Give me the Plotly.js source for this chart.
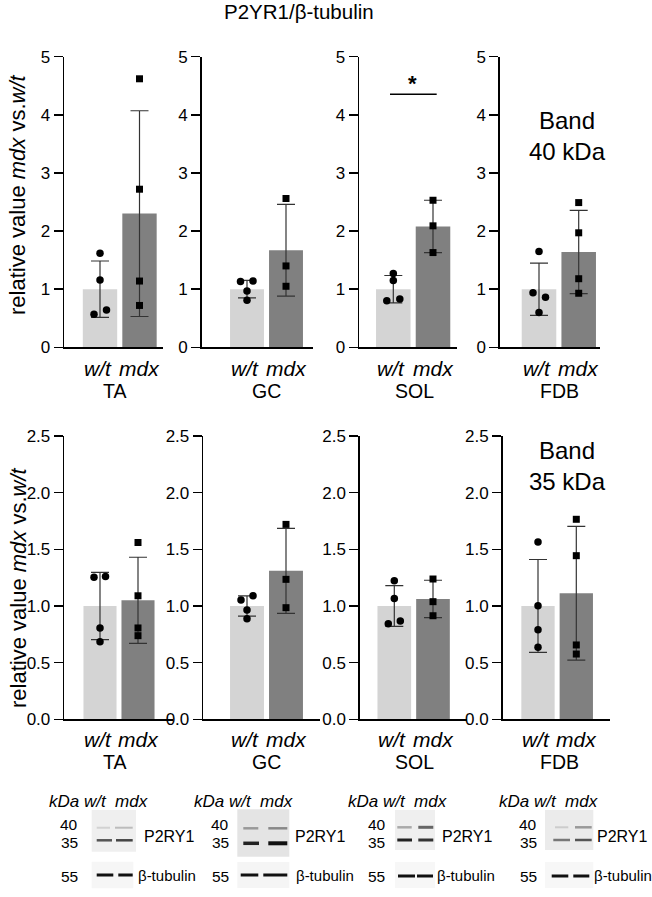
<!DOCTYPE html>
<html>
<head>
<meta charset="utf-8">
<script src="https://cdn.plot.ly/plotly-3.0.1.min.js"></script>
<style>
  html, body { margin: 0; padding: 0; background: #fff; }
  #chart { width: 652px; height: 897px; }
</style>
</head>
<body>
<div id="chart"></div>
<script>
// ---------------- DATA ----------------
const muscles = ['TA', 'GC', 'SOL', 'FDB'];
const groupLabels = ['w/t', 'mdx'];
const chartTitle = 'P2YR1/β-tubulin';
const yTitle = 'relative value <i>mdx</i> vs.<i>w/t</i>';
const bandLabels = ['Band<br>40 kDa', 'Band<br>35 kDa'];

// Band 40 kDa (top row)
const b40WtMean  = [1.00, 1.00, 1.00, 1.00];
const b40WtSd    = [0.485, 0.15, 0.235, 0.45];
const b40MdxMean = [2.30, 1.67, 2.08, 1.64];
const b40MdxSd   = [1.77, 0.79, 0.45, 0.715];
const b40WtPts   = [[1.62, 1.16, 0.57, 0.64], [1.13, 1.14, 0.97, 0.81], [1.27, 1.15, 0.80, 0.83], [1.65, 0.94, 0.86, 0.60]];
const b40MdxPts  = [[4.62, 2.72, 1.14, 0.72], [2.56, 1.40, 1.05], [2.53, 2.09, 1.63], [2.49, 1.97, 1.18, 0.93]];

// Band 35 kDa (bottom row)
const b35WtMean  = [1.00, 1.00, 1.00, 1.00];
const b35WtSd    = [0.297, 0.09, 0.18, 0.41];
const b35MdxMean = [1.05, 1.31, 1.062, 1.112];
const b35MdxSd   = [0.38, 0.375, 0.165, 0.59];
const b35WtPts   = [[1.253, 1.26, 0.806, 0.685], [1.053, 1.09, 0.965, 0.888], [1.223, 1.065, 0.844, 0.868], [1.565, 1.003, 0.791, 0.635]];
const b35MdxPts  = [[1.56, 1.09, 0.806, 0.738], [1.72, 1.235, 0.985], [1.238, 1.038, 0.914], [1.765, 1.444, 0.656, 0.576]];

const topTickVals = [0, 1, 2, 3, 4, 5];
const topTickText = ['0', '1', '2', '3', '4', '5'];
const botTickVals = [0, 0.5, 1.0, 1.5, 2.0, 2.5];
const botTickText = ['0.0', '0.5', '1.0', '1.5', '2.0', '2.5'];

// blot labels
const blotHeader = '<i>kDa w/t&nbsp;&nbsp;mdx</i>';
const blotMarkers = ['40', '35', '55'];
const blotProteins = ['P2RY1', 'β-tubulin'];

// ---------------- LAYOUT HELPERS ----------------
const W = 652, H = 897;
const px = x => x / W;
const py = y => 1 - y / H;
const FONT = '"Liberation Sans", Arial, Helvetica, sans-serif';

// panel geometry (pixels)
const rows = [
  { axisStart: [64.3, 201.7, 359.3, 500], axisEnd: [163, 313, 456.7, 600],
    wtCenter: [100, 247, 393.3, 539], spacing: [39.5, 39, 39.7, 39.7],
    yBottom: 347.3, yTop: 56.7, range: [0, 5], tv: topTickVals, tt: topTickText,
    wtMean: b40WtMean, wtSd: b40WtSd, mdxMean: b40MdxMean, mdxSd: b40MdxSd,
    wtPts: b40WtPts, mdxPts: b40MdxPts,
    jitter: [[0, 0, -6, 6.5], [-6.5, 6, 0, 0], [0, 0, -6.5, 6.5], [0, -6, 6.5, 0]],
    grpY: 368, musY: 391, titleY: 195 },
  { axisStart: [64.3, 203.3, 360, 502.7], axisEnd: [173, 320, 466.7, 610],
    wtCenter: [100, 247, 394.3, 538], spacing: [38, 39, 38.7, 38.3],
    yBottom: 719.3, yTop: 436, range: [0, 2.5], tv: botTickVals, tt: botTickText,
    wtMean: b35WtMean, wtSd: b35WtSd, mdxMean: b35MdxMean, mdxSd: b35MdxSd,
    wtPts: b35WtPts, mdxPts: b35MdxPts,
    jitter: [[-6, 5.5, 0, 0], [-6, 6, 0, 0], [0, 0, -6, 6], [0, 0, 0, 0]],
    grpY: 739, musY: 762, titleY: 588 }
];
const musX = [114, 266, 414, 559];

const traces = [];
const layout = {
  width: W, height: H,
  margin: { l: 0, r: 0, t: 0, b: 0 },
  paper_bgcolor: '#fff', plot_bgcolor: 'rgba(0,0,0,0)',
  showlegend: false,
  font: { family: FONT, color: '#000' },
  annotations: [], shapes: []
};

let k = 0;
rows.forEach((row, r) => {
  muscles.forEach((m, i) => {
    k += 1;
    const xs = k === 1 ? '' : String(k);
    const s = row.spacing[i], c0 = row.wtCenter[i];
    layout['xaxis' + xs] = {
      domain: [px(row.axisStart[i]), px(row.axisEnd[i])],
      range: [(row.axisStart[i] - c0) / s, (row.axisEnd[i] - c0) / s],
      anchor: 'y' + xs, showline: true, linecolor: '#000', linewidth: 1.6,
      ticks: '', showticklabels: false, showgrid: false, zeroline: false, fixedrange: true
    };
    layout['yaxis' + xs] = {
      domain: [py(row.yBottom), py(row.yTop)],
      range: row.range, anchor: 'x' + xs,
      showline: true, linecolor: '#000', linewidth: 1.6,
      ticks: 'outside', ticklen: 9, tickwidth: 1.5, tickcolor: '#000',
      tickvals: row.tv, ticktext: row.tt,
      tickfont: { size: 17, family: FONT, color: '#000' },
      showgrid: false, zeroline: false, fixedrange: true
    };
    traces.push({
      type: 'bar', x: [0, 1], y: [row.wtMean[i], row.mdxMean[i]], width: 0.87,
      marker: { color: ['#d4d4d4', '#808080'], line: { width: 0 } },
      error_y: { type: 'data', array: [row.wtSd[i], row.mdxSd[i]], visible: true,
                 color: '#333', thickness: 1.2, width: 9 },
      xaxis: 'x' + xs, yaxis: 'y' + xs, hoverinfo: 'skip'
    });
    traces.push({
      type: 'scatter', mode: 'markers',
      x: row.wtPts[i].map((v, j) => row.jitter[i][j] / s), y: row.wtPts[i],
      marker: { symbol: 'circle', size: 7.5, color: '#000' },
      cliponaxis: false, xaxis: 'x' + xs, yaxis: 'y' + xs, hoverinfo: 'skip'
    });
    traces.push({
      type: 'scatter', mode: 'markers',
      x: row.mdxPts[i].map(() => 1), y: row.mdxPts[i],
      marker: { symbol: 'square', size: 7, color: '#000' },
      cliponaxis: false, xaxis: 'x' + xs, yaxis: 'y' + xs, hoverinfo: 'skip'
    });
    // group labels
    groupLabels.forEach((g, gi) => {
      layout.annotations.push({
        text: '<i>' + g + '</i>', x: gi + (gi === 0 ? -0.06 : 0), xref: 'x' + xs, y: py(row.grpY), yref: 'paper',
        xanchor: 'center', yanchor: 'middle', showarrow: false,
        font: { size: 21, family: FONT, color: '#000' }
      });
    });
    // muscle labels
    layout.annotations.push({
      text: m, x: px(musX[i]), xref: 'paper', y: py(row.musY), yref: 'paper',
      xanchor: 'center', yanchor: 'middle', showarrow: false,
      font: { size: 19.5, family: FONT, color: '#000' }
    });
  });
  // y title
  layout.annotations.push({
    text: yTitle, x: px(18), y: py(row.titleY), xref: 'paper', yref: 'paper',
    textangle: -90, xanchor: 'center', yanchor: 'middle', showarrow: false,
    font: { size: 22, family: FONT, color: '#000' }
  });
});

// chart title
layout.annotations.push({
  text: chartTitle, x: px(298.5), y: py(12), xref: 'paper', yref: 'paper',
  xanchor: 'center', yanchor: 'middle', showarrow: false,
  font: { size: 20.5, family: FONT, color: '#000' }
});
// band labels
[[567, 136], [567, 466]].forEach((p, i) => {
  layout.annotations.push({
    text: bandLabels[i], x: px(p[0]), y: py(p[1]), xref: 'paper', yref: 'paper',
    xanchor: 'center', yanchor: 'middle', showarrow: false, align: 'center',
    font: { size: 24, family: FONT, color: '#000' }
  });
});
// significance
layout.shapes.push({ type: 'line', xref: 'paper', yref: 'paper',
  x0: px(390), x1: px(436.7), y0: py(94.3), y1: py(94.3), line: { color: '#000', width: 1.6 } });
layout.annotations.push({
  text: '<b>*</b>', x: px(412.7), y: py(84), xref: 'paper', yref: 'paper',
  xanchor: 'center', yanchor: 'middle', showarrow: false,
  font: { size: 22, family: FONT, color: '#000' }
});

// ---------------- BLOTS (decorative images) ----------------
const blotGeom = [
  { head: 98, num: 69.3, prot: 141.7, tub: 136,
    box1: [91.7, 810, 136, 851.7, '#efefef'], box2: [91.7, 861.7, 133.3, 888.3, '#f6f6f6'],
    bands: [[96.7, 110, 827.7, '#d2d2d2', 2], [115, 132.7, 827.7, '#bcbcbc', 2],
            [96.7, 112, 840.3, '#555', 2.5], [116, 132.7, 840.3, '#444', 2.5],
            [96.7, 113.3, 875, '#111', 3], [118.3, 132.7, 875, '#111', 3]] },
  { head: 243, num: 220, prot: 293.3, tub: 294,
    box1: [237.3, 809.3, 289.3, 856.7, '#e4e4e4'], box2: [237.3, 862, 289.3, 888, '#f5f5f5'],
    bands: [[243.3, 258.3, 828.3, '#999', 2.5], [268.3, 287.3, 828.3, '#888', 2.5],
            [243.3, 259, 843.3, '#222', 3.5], [268.3, 287.3, 843.3, '#111', 4],
            [240.7, 258.3, 875, '#111', 3], [263.3, 287.3, 875, '#111', 3]] },
  { head: 397.5, num: 376.7, prot: 440, tub: 435,
    box1: [395, 810, 435, 850, '#efefef'], box2: [395, 862, 435, 888, '#f7f7f7'],
    bands: [[397.3, 411.7, 827.3, '#aaa', 2.5], [418.3, 433.3, 827.3, '#666', 3],
            [397.3, 412, 840, '#222', 3], [418.3, 433.3, 840, '#333', 3],
            [398, 415, 876, '#111', 3], [417, 433, 876, '#111', 3]] },
  { head: 548, num: 528.3, prot: 595, tub: 591.7,
    box1: [545, 810, 593.3, 850, '#ebebeb'], box2: [545, 862, 593.3, 888, '#f7f7f7'],
    bands: [[555, 568.3, 827.3, '#ccc', 2], [575, 591.7, 827.3, '#999', 2.5],
            [553.3, 570, 840, '#777', 2.5], [575, 591.7, 840, '#555', 2.5],
            [551.7, 568.3, 876, '#111', 3], [573.3, 589.3, 876, '#111', 3]] }
];
const blotFont = { size: 16, family: FONT, color: '#000' };
blotGeom.forEach(b => {
  [b.box1, b.box2].forEach(bx => layout.shapes.push({
    type: 'rect', xref: 'paper', yref: 'paper', x0: px(bx[0]), x1: px(bx[2]),
    y0: py(bx[1]), y1: py(bx[3]), fillcolor: bx[4], line: { width: 0 }, layer: 'below' }));
  b.bands.forEach(bd => layout.shapes.push({
    type: 'line', xref: 'paper', yref: 'paper', x0: px(bd[0]), x1: px(bd[1]),
    y0: py(bd[2]), y1: py(bd[2]), line: { color: bd[3], width: bd[4] } }));
  layout.annotations.push({ text: blotHeader, x: px(b.head), y: py(801), xref: 'paper', yref: 'paper',
    xanchor: 'center', yanchor: 'middle', showarrow: false, font: { size: 17, family: FONT, color: '#000' } });
  [824, 842, 876].forEach((yy, j) => layout.annotations.push({
    text: blotMarkers[j], x: px(b.num), y: py(yy), xref: 'paper', yref: 'paper',
    xanchor: 'center', yanchor: 'middle', showarrow: false, font: { size: 15.5, family: FONT, color: '#000' } }));
  layout.annotations.push({ text: blotProteins[0], x: px(b.prot), y: py(836), xref: 'paper', yref: 'paper',
    xanchor: 'left', yanchor: 'middle', showarrow: false, font: blotFont });
  layout.annotations.push({ text: blotProteins[1], x: px(b.tub), y: py(875.5), xref: 'paper', yref: 'paper',
    xanchor: 'left', yanchor: 'middle', showarrow: false, font: { size: 15, family: FONT, color: '#000' } });
});

Plotly.newPlot('chart', traces, layout, { staticPlot: true, displayModeBar: false });
</script>
</body>
</html>
